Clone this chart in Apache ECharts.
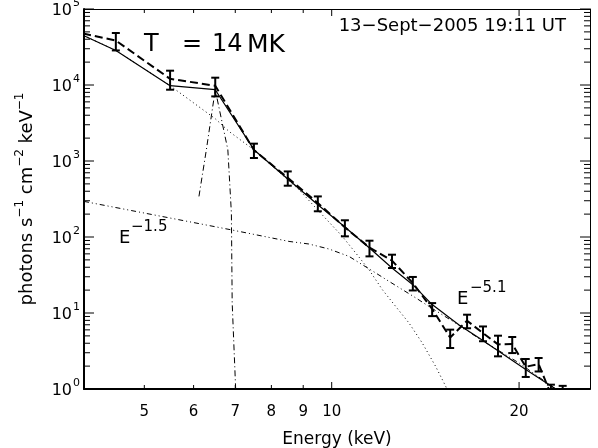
<!DOCTYPE html>
<html>
<head>
<meta charset="utf-8">
<script src="https://cdn.jsdelivr.net/npm/echarts@6/dist/echarts.min.js"></script>
<style>
  html, body { margin: 0; padding: 0; background: #fff; }
  #chart { width: 598px; height: 448px; }
</style>
</head>
<body>
<div id="chart"></div>
<script>
// Observed count spectrum in 1 keV bins (keV, photons s^-1 cm^-2 keV^-1, 1-sigma error).
// The first bin sits just below the plotted energy range.
const binEnergy = [3.5, 4.5, 5.5, 6.5, 7.5, 8.5, 9.5, 10.5, 11.5, 12.5, 13.5, 14.5,
                   15.5, 16.5, 17.5, 18.5, 19.5, 20.5, 21.5, 22.5, 23.5];
const binFlux   = [60000, 38400, 12050, 9780, 1393, 601, 280, 134, 72.5, 48.8, 24.8, 11.3,
                   4.75, 7.9, 5.45, 3.86, 3.9, 1.96, 2.13, 0.85, 0.82];
const binError  = [0, 9900, 3380, 2700, 298, 128, 62, 32, 16.9, 9.7, 5.0, 2.2,
                   1.29, 1.6, 1.2, 1.17, 0.93, 0.52, 0.43, 0.29, 0.28];

// Total fitted model
const totalEnergy = [4.0, 4.5, 5.5, 6.5, 7.5, 8.5, 9.5, 10.5, 11.5, 12.5, 13.5, 14.5, 16.0, 17.25, 20.5, 22.9, 26.0];
const totalFlux   = [44500, 28500, 9790, 8670, 1409, 580, 266, 135.5, 71.7, 39.1, 23.6, 12.9, 7.02, 4.69, 1.8, 1.0, 0.5];

// Thermal continuum, T = 14 MK
const thermalEnergy = [4.0, 4.5, 5.5, 6.5, 6.84, 7.5, 8.86, 9.66, 10.4, 10.93, 11.48, 12.06, 12.67, 13.31, 13.98, 14.69, 15.25, 15.6];
const thermalFlux   = [44500, 28500, 9790, 3600, 2450, 1400, 419, 195, 102, 61.6, 37.1, 20.3, 12.2, 7.39, 4.03, 1.98, 1.08, 0.7];

// Broken power law: E^-1.5 below the break, E^-5.1 above
const powerEnergy = [4.0, 6.87, 8.54, 9.19, 9.9, 10.66, 11.2, 11.77, 12.36, 12.99, 13.65, 14.33, 16.02, 17.25, 20.0, 22.9, 26.0];
const powerFlux   = [294, 125, 87.5, 80.9, 69.5, 55.6, 43.2, 33.6, 26.1, 20.3, 15.8, 12.2, 6.9, 4.6, 2.2, 1.0, 0.5];

// Fe line complex near 6.7 keV
const ironEnergy = [6.12, 6.29, 6.5, 6.81, 6.9, 6.92, 7.01];
const ironFlux   = [342, 1409, 8670, 1409, 207, 13.7, 1.0];

// Axis ticks and labels
const xTickValues  = [5, 6, 7, 8, 9, 10, 20];
const xLongTicks   = [10, 20];
const yDecades     = [1, 10, 100, 1000, 10000, 100000];
const yMinorSteps  = [2, 3, 4, 5, 6, 7, 8, 9];

const X_MIN = 4, X_MAX = 26, Y_MIN = 1, Y_MAX = 100000;
const FONT = '"DejaVu Sans", "Liberation Sans", sans-serif';
const INK = '#000';

const yTickValues = [];
yDecades.forEach(function (d) {
  yTickValues.push(d);
  if (d < Y_MAX) yMinorSteps.forEach(function (m) { yTickValues.push(d * m); });
});

function pairs(xs, ys) { return xs.map(function (x, i) { return [x, ys[i]]; }); }

function line(style) { return { color: INK, width: style.width, type: style.type }; }

function xTickItem(params, api) {
  const v = api.value(0);
  const cs = params.coordSys;
  const px = api.coord([v, Y_MIN])[0];
  const len = xLongTicks.indexOf(v) >= 0 ? 7 : 4;
  const bottom = cs.y + cs.height, top = cs.y;
  const st = { stroke: INK, lineWidth: 1 };
  return {
    type: 'group',
    children: [
      { type: 'line', shape: { x1: px, y1: bottom, x2: px, y2: bottom - len }, style: st },
      { type: 'line', shape: { x1: px, y1: top, x2: px, y2: top + len }, style: st },
      { type: 'text', x: px, y: bottom + 23,
        style: { text: String(v), fill: INK, font: '15px ' + FONT, align: 'center', verticalAlign: 'middle' } }
    ]
  };
}

function yTickItem(params, api) {
  const v = api.value(1);
  const cs = params.coordSys;
  const py = api.coord([X_MIN, v])[1];
  const major = yDecades.indexOf(v) >= 0;
  const len = major ? 10 : 6;
  const left = cs.x, right = cs.x + cs.width;
  const st = { stroke: INK, lineWidth: 1 };
  const children = [
    { type: 'line', shape: { x1: left, y1: py, x2: left + len, y2: py }, style: st },
    { type: 'line', shape: { x1: right, y1: py, x2: right - len, y2: py }, style: st }
  ];
  if (major) {
    const exp = Math.round(Math.log10(v));
    children.push({ type: 'text', x: left - 12, y: py + 2,
      style: { text: '10', fill: INK, font: '16px ' + FONT, align: 'right', verticalAlign: 'middle' } });
    children.push({ type: 'text', x: left - 11, y: py - 6,
      style: { text: String(exp), fill: INK, font: '11px ' + FONT, align: 'left', verticalAlign: 'middle' } });
  }
  return { type: 'group', children: children };
}

function errorBarItem(params, api) {
  const e = api.value(0), f = api.value(1), s = api.value(2);
  if (!(s > 0)) return null;
  const hi = api.coord([e, f + s]);
  const lo = api.coord([e, f - s]);
  const w = 4;
  const st = { stroke: INK, lineWidth: 2 };
  return {
    type: 'group',
    children: [
      { type: 'line', shape: { x1: hi[0], y1: hi[1], x2: lo[0], y2: lo[1] }, style: st },
      { type: 'line', shape: { x1: hi[0] - w, y1: hi[1], x2: hi[0] + w, y2: hi[1] }, style: st },
      { type: 'line', shape: { x1: lo[0] - w, y1: lo[1], x2: lo[0] + w, y2: lo[1] }, style: st }
    ]
  };
}

function frameAxis(position, width) {
  return {
    type: 'log', logBase: 10, position: position,
    axisLine: { show: true, onZero: false, lineStyle: { color: INK, width: width } },
    axisTick: { show: false }, axisLabel: { show: false }, splitLine: { show: false },
    minorTick: { show: false }, minorSplitLine: { show: false }
  };
}

const xBottom = Object.assign(frameAxis('bottom', 2), {
  min: X_MIN, max: X_MAX,
  name: 'Energy (keV)', nameLocation: 'middle', nameGap: 42,
  nameTextStyle: { color: INK, fontFamily: FONT, fontSize: 17 }
});
const xTop = Object.assign(frameAxis('top', 1), { min: X_MIN, max: X_MAX });
const yLeft = Object.assign(frameAxis('left', 2), {
  min: Y_MIN, max: Y_MAX,
  name: 'photons s{s|\u22121} cm{s|\u22122} keV{s|\u22121}',
  nameLocation: 'middle', nameRotate: 90, nameGap: 43,
  nameTextStyle: {
    color: INK, fontFamily: FONT, fontSize: 18, lineHeight: 27,
    rich: { s: { fontFamily: FONT, fontSize: 12, color: INK, verticalAlign: 'top', lineHeight: 11 } }
  }
});
const yRight = Object.assign(frameAxis('right', 1), { min: Y_MIN, max: Y_MAX });

const chart = echarts.init(document.getElementById('chart'), null, { renderer: 'canvas' });

chart.setOption({
  animation: false,
  backgroundColor: '#fff',
  grid: { left: 84, right: 8, top: 9, bottom: 59, containLabel: false, outerBoundsMode: 'none' },
  xAxis: [xBottom, xTop],
  yAxis: [yLeft, yRight],
  series: [
    { type: 'line', name: 'thermal', data: pairs(thermalEnergy, thermalFlux), showSymbol: false,
      lineStyle: line({ width: 1, type: [1, 3] }), z: 2, silent: true },
    { type: 'line', name: 'power law', data: pairs(powerEnergy, powerFlux), showSymbol: false,
      lineStyle: line({ width: 1, type: [5, 3, 1, 3, 1, 3] }), z: 2, silent: true },
    { type: 'line', name: 'Fe line', data: pairs(ironEnergy, ironFlux), showSymbol: false,
      lineStyle: line({ width: 1, type: [6, 3, 1, 3] }), z: 2, silent: true },
    { type: 'line', name: 'total', data: pairs(totalEnergy, totalFlux), showSymbol: false,
      lineStyle: line({ width: 1.2, type: 'solid' }), z: 3, silent: true },
    { type: 'line', name: 'observed', data: pairs(binEnergy, binFlux), showSymbol: false,
      lineStyle: line({ width: 2, type: [8, 4] }), z: 4, silent: true },
    { type: 'custom', name: 'errors', data: binEnergy.map(function (e, i) { return [e, binFlux[i], binError[i]]; }),
      renderItem: errorBarItem, clip: true, z: 5, silent: true },
    { type: 'custom', name: 'x ticks', data: xTickValues.map(function (v) { return [v, Y_MIN]; }),
      renderItem: xTickItem, clip: false, z: 6, silent: true },
    { type: 'custom', name: 'y ticks', data: yTickValues.map(function (v) { return [X_MIN, v]; }),
      renderItem: yTickItem, clip: false, z: 6, silent: true }
  ],
  graphic: [
    { type: 'text', left: 144, top: 33, style: { text: 'T', fill: INK, font: '24px ' + FONT } },
    { type: 'text', left: 182, top: 33, style: { text: '=', fill: INK, font: '24px ' + FONT } },
    { type: 'text', left: 212, top: 33, style: { text: '14', fill: INK, font: '24px ' + FONT } },
    { type: 'text', left: 247, top: 33, style: { text: 'MK', fill: INK, font: '25px ' + FONT } },
    { type: 'text', right: 32, top: 17, style: { text: '13\u2212Sept\u22122005 19:11 UT', fill: INK, font: '18px ' + FONT } },
    { type: 'text', left: 119, top: 229, style: { text: 'E', fill: INK, font: '18px ' + FONT } },
    { type: 'text', left: 131, top: 220, style: { text: '\u22121.5', fill: INK, font: '15px ' + FONT } },
    { type: 'text', left: 457, top: 290, style: { text: 'E', fill: INK, font: '18px ' + FONT } },
    { type: 'text', left: 470, top: 281, style: { text: '\u22125.1', fill: INK, font: '15px ' + FONT } }
  ]
});
</script>
</body>
</html>
